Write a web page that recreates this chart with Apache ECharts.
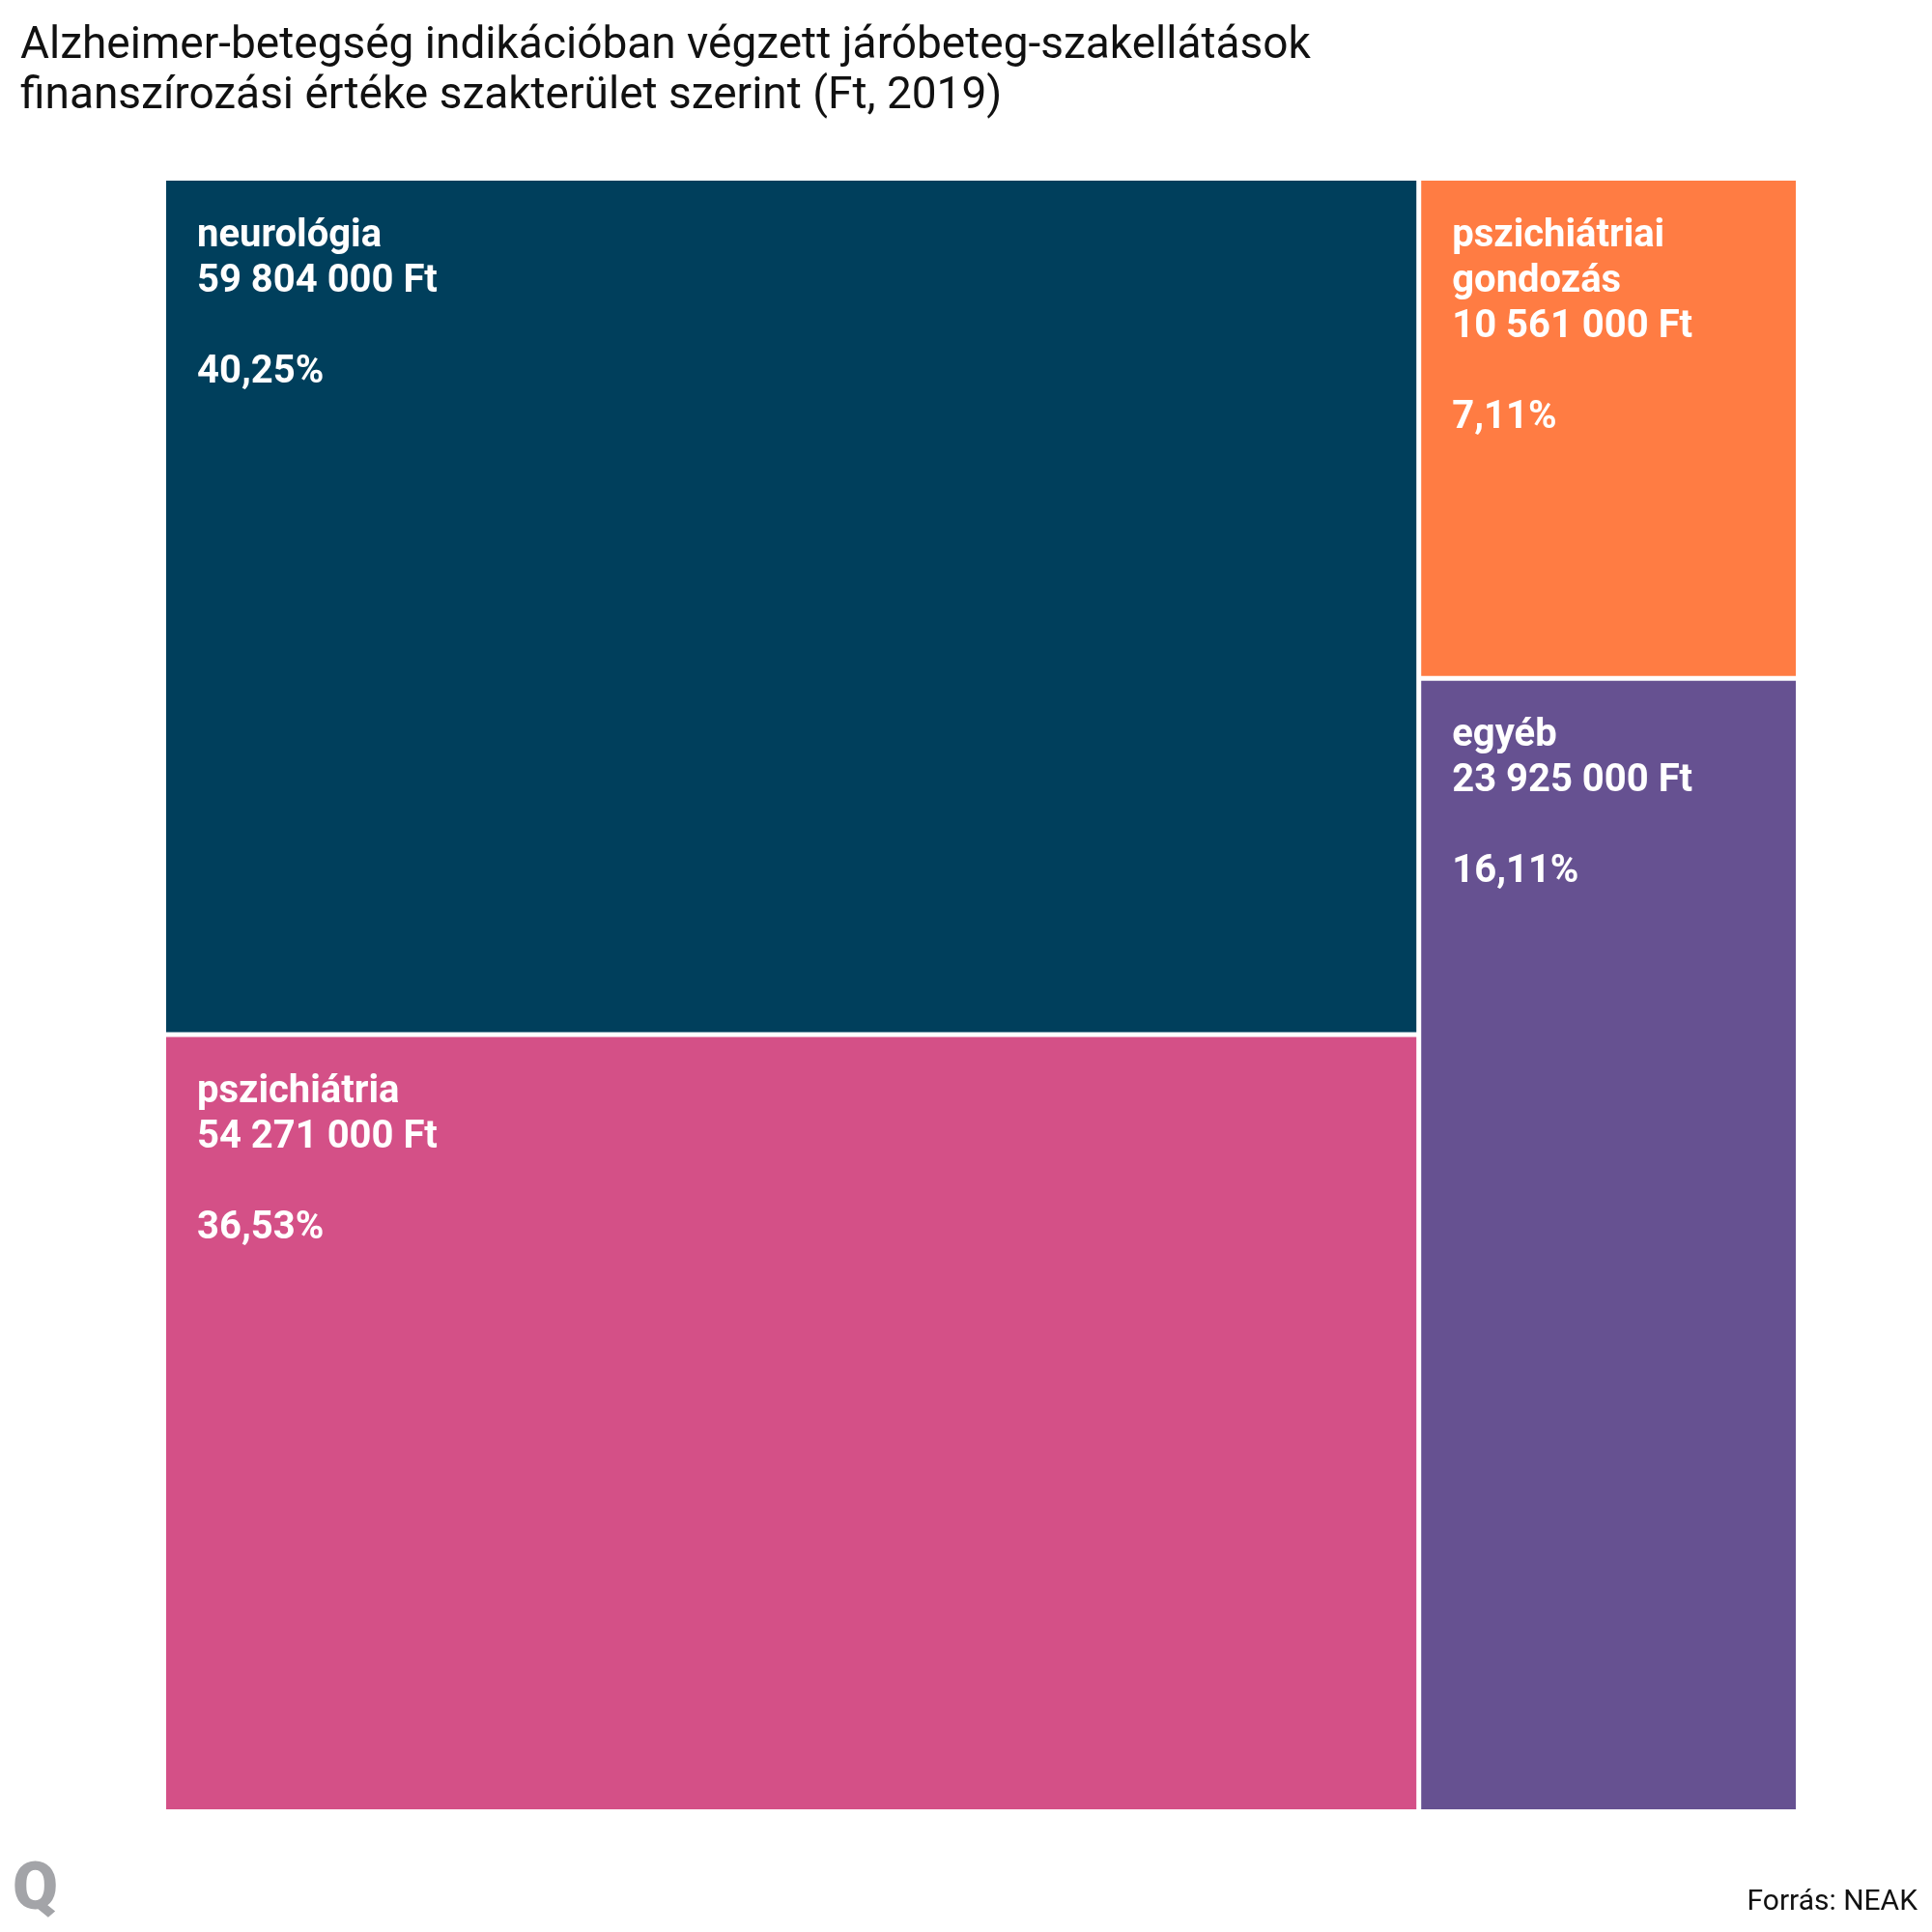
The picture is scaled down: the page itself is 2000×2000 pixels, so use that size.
<!DOCTYPE html>
<html>
<head>
<meta charset="utf-8">
<script src="https://cdn.jsdelivr.net/npm/echarts@6/dist/echarts.min.js"></script>
<style>
html,body{margin:0;padding:0;background:#fff;}
#chart{width:2000px;height:2000px;}
</style>
</head>
<body>
<div id="chart"></div>
<script>
// ---- data ----
var categories = ['neurológia', 'pszichiátria', 'pszichiátriai gondozás', 'egyéb'];
var valuesFt = [59804000, 54271000, 10561000, 23925000];
var percents = [40.25, 36.53, 7.11, 16.11];
var colors = ['#003f5c', '#d45087', '#ff7c43', '#665191'];
var titleText = 'Alzheimer-betegség indikációban végzett járóbeteg-szakellátások\nfinanszírozási értéke szakterület szerint (Ft, 2019)';
var sourceText = 'Forrás: NEAK';

function fmtFt(v) {
  return String(v).replace(/\B(?=(\d{3})+(?!\d))/g, ' ') + ' Ft';
}
function fmtPct(p) {
  return p.toFixed(2).replace('.', ',') + '%';
}

var seriesData = categories.map(function (c, i) {
  return { name: c, value: valuesFt[i], pct: percents[i], itemStyle: { color: colors[i] } };
});

var chart = echarts.init(document.getElementById('chart'), null, { renderer: 'canvas' });
chart.setOption({
  backgroundColor: '#ffffff',
  animation: false,
  title: {
    text: titleText,
    left: 16,
    top: 17,
    textStyle: {
      fontFamily: 'Roboto',
      fontSize: 46,
      lineHeight: 52,
      fontWeight: 'normal',
      color: '#111111'
    }
  },
  tooltip: { show: false },
  series: [{
    type: 'treemap',
    left: 172,
    top: 187,
    width: 1687,
    height: 1686,
    roam: false,
    nodeClick: false,
    sort: false,
    breadcrumb: { show: false },
    squareRatio: 0.5 * (1 + Math.sqrt(5)),
    levels: [{
      itemStyle: { borderWidth: 0, gapWidth: 5, borderColor: '#ffffff' }
    }, {
      itemStyle: { borderWidth: 0, gapWidth: 0 }
    }],
    label: {
      show: true,
      position: 'insideTopLeft',
      distance: 0,
      padding: [34, 31, 0, 32],
      overflow: 'break',
      fontFamily: 'Roboto',
      fontWeight: 'bold',
      fontSize: 40,
      lineHeight: 47,
      color: '#ffffff',
      formatter: function (p) {
        return p.name + '\n' + fmtFt(p.value) + '\n\n' + fmtPct(p.data.pct);
      }
    },
    data: seriesData
  }],
  graphic: [{
    type: 'text',
    left: 13,
    top: 1925,
    style: {
      text: 'Q',
      fontFamily: 'Roboto',
      fontWeight: 900,
      fontSize: 68,
      fill: '#a3a4a8'
    }
  }, {
    type: 'text',
    right: 15,
    top: 1954,
    style: {
      text: sourceText,
      fontFamily: 'Roboto',
      fontSize: 30,
      fill: '#111111'
    }
  }]
});
</script>
</body>
</html>
